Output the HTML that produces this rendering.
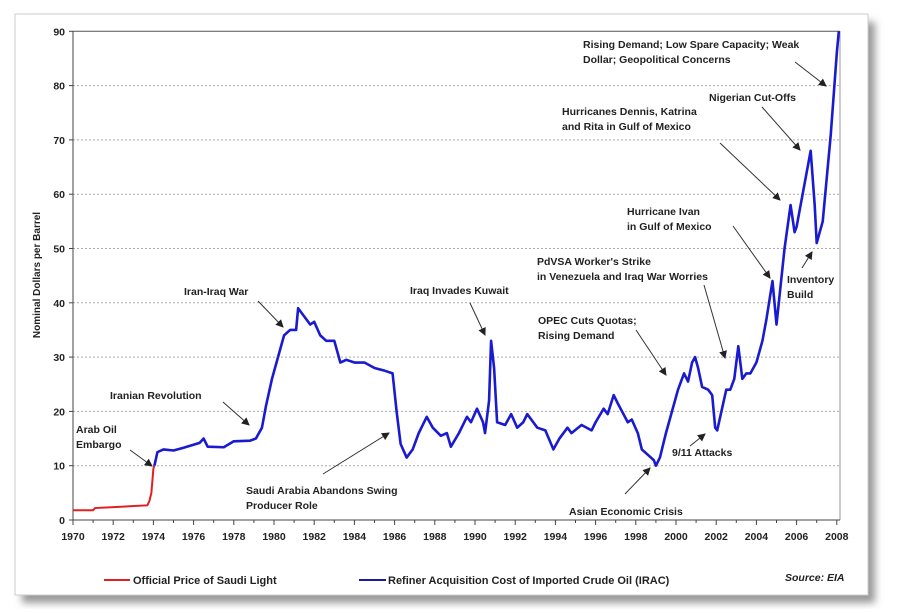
<!DOCTYPE html>
<html><head><meta charset="utf-8"><style>
body{margin:0;background:#fff;width:903px;height:609px;overflow:hidden}
svg text{font-family:"Liberation Sans",Arial,sans-serif;font-weight:bold;font-size:10.5px;fill:#222}
</style></head><body>
<svg id="chart" width="903" height="609" viewBox="0 0 903 609">
<defs><filter id="sh" x="-5%" y="-5%" width="115%" height="115%"><feGaussianBlur stdDeviation="4"/></filter>
<marker id="ah" markerWidth="8" markerHeight="8" refX="7" refY="4" orient="auto"><path d="M0,0 L8,4 L0,8 z" fill="#222"/></marker></defs>
<rect x="22" y="22" width="853" height="581" fill="#999" filter="url(#sh)"/>
<rect x="15" y="14" width="853" height="581" fill="#fff" stroke="#ccc"/>
<g id="grid"></g><g id="axes"></g><g id="series"></g>
<g id="notes"></g>
<text transform="translate(40,275) rotate(-90)" text-anchor="middle" style="font-size:10px">Nominal Dollars per Barrel</text>
<g>
<line x1="104" y1="580" x2="130" y2="580" stroke="#e02020" stroke-width="2"/>
<text x="133" y="584" style="font-size:11px">Official Price of Saudi Light</text>
<line x1="359" y1="580" x2="386" y2="580" stroke="#1a1aa0" stroke-width="2"/>
<text x="388" y="584" style="font-size:11px">Refiner Acquisition Cost of Imported Crude Oil (IRAC)</text>
<text x="785" y="581" style="font-size:10.5px;font-style:italic">Source: EIA</text>
</g>
</svg>
<script>
const yTicks=[0,10,20,30,40,50,60,70,80,90];
const xTicks=[1970,1972,1974,1976,1978,1980,1982,1984,1986,1988,1990,1992,1994,1996,1998,2000,2002,2004,2006,2008];
const saudiYears=[1970,1971,1971.1,1973.7,1973.8,1973.9,1974.0,1974.05];
const saudiPrices=[1.8,1.8,2.2,2.7,3.5,5,9.5,10];
const iracYears=[1974.05,1974.2,1974.5,1975,1975.5,1976.3,1976.5,1976.7,1977.5,1978,1978.8,1979.1,1979.4,1979.6,1979.9,1980.2,1980.5,1980.8,1981.1,1981.2,1981.5,1981.8,1982,1982.3,1982.6,1983,1983.3,1983.6,1984,1984.5,1985,1985.5,1985.9,1986.1,1986.3,1986.6,1986.9,1987.2,1987.6,1987.9,1988.3,1988.6,1988.8,1989.2,1989.6,1989.8,1990.1,1990.4,1990.5,1990.7,1990.8,1990.95,1991.1,1991.5,1991.8,1992.1,1992.4,1992.6,1993.1,1993.5,1993.9,1994.2,1994.6,1994.8,1995.3,1995.8,1996.0,1996.4,1996.6,1996.9,1997.1,1997.6,1997.8,1998.1,1998.3,1998.6,1998.9,1999.0,1999.2,1999.5,1999.8,2000.1,2000.4,2000.6,2000.8,2000.95,2001.1,2001.3,2001.6,2001.8,2001.95,2002.05,2002.2,2002.5,2002.7,2002.9,2003.1,2003.3,2003.5,2003.7,2004.0,2004.3,2004.5,2004.8,2004.9,2005.0,2005.2,2005.4,2005.7,2005.9,2006.0,2006.3,2006.6,2006.7,2006.9,2007.0,2007.3,2007.5,2007.7,2007.9,2008.0,2008.1];
const iracPrices=[10,12.5,13,12.8,13.3,14.2,15,13.5,13.4,14.5,14.6,15,17,21,26,30,34,35,35,39,37.5,36,36.5,34,33,33,29,29.5,29,29,28,27.5,27,20,14,11.5,13,16,19,17,15.5,16,13.5,16,19,18,20.5,18,16,22,33,28,18,17.5,19.5,17,18,19.5,17,16.5,13,15,17,16,17.5,16.5,18,20.5,19.5,23,21.5,18,18.5,16,13,12,11,10,11.5,16,20,24,27,25.5,29,30,28,24.5,24,23,17,16.5,19,24,24,26,32,26,27,27,29,33,37,44,40,36,43,50,58,53,54,60,66,68,58,51,55,63,71,81,86,90];
const X=y=>73+(y-1970)*20.1, Y=v=>520-v*5.43;
const NS="http://www.w3.org/2000/svg";
function mk(tag,attrs,parent){const e=document.createElementNS(NS,tag);for(const k in attrs)e.setAttribute(k,attrs[k]);parent.appendChild(e);return e;}
const grid=document.getElementById('grid'),axes=document.getElementById('axes'),series=document.getElementById('series'),notes=document.getElementById('notes');
yTicks.forEach(v=>{
 if(v>0&&v<90){const g=mk('line',{x1:X(1970),x2:840,y1:Y(v),y2:Y(v),stroke:'#aaa','stroke-dasharray':'2,2'},grid);
 
 }
 const t=mk('line',{x1:X(1970)-4,x2:X(1970),y1:Y(v),y2:Y(v),stroke:'#444'},axes);
 const l=mk('text',{x:X(1970)-8,y:Y(v)+4,'text-anchor':'end'},axes);l.textContent=v;
 
 
});
mk('line',{x1:X(1970),x2:840,y1:Y(90),y2:Y(90),stroke:'#555'},axes);
mk('line',{x1:840,x2:840,y1:Y(90),y2:Y(0),stroke:'#999'},axes);
mk('line',{x1:X(1970),x2:X(1970),y1:Y(90),y2:Y(0),stroke:'#444'},axes);
mk('line',{x1:X(1970),x2:840,y1:Y(0),y2:Y(0),stroke:'#444'},axes);
for(let yr=1970;yr<=2008;yr++)mk('line',{x1:X(yr),x2:X(yr),y1:Y(0),y2:Y(0)+(yr%2?3:5),stroke:'#444'},axes);
xTicks.forEach(yr=>{const l=mk('text',{x:X(yr),y:Y(0)+20,'text-anchor':'middle'},axes);l.textContent=yr;
 
 });
const p1=mk('polyline',{points:saudiYears.map((y,i)=>X(y)+','+Y(saudiPrices[i])).join(' '),fill:'none',stroke:'#e02020','stroke-width':2},series);


const p2=mk('polyline',{points:iracYears.map((y,i)=>X(y)+','+Y(iracPrices[i])).join(' '),fill:'none',stroke:'#1a1ad0','stroke-width':2.6,'stroke-linejoin':'round'},series);


const ann=[
 [["Rising Demand; Low Spare Capacity; Weak","Dollar; Geopolitical Concerns"],583,48,[795,62,826,86]],
 [["Nigerian Cut-Offs"],709,101,[762,107,800,150]],
 [["Hurricanes Dennis, Katrina","and Rita in Gulf of Mexico"],562,115,[720,143,780,200]],
 [["Hurricane Ivan","in Gulf of Mexico"],627,215,[733,226,770,278]],
 [["Inventory","Build"],787,283,[802,268,812,252]],
 [["PdVSA Worker's Strike","in Venezuela and Iraq War Worries"],537,265,[704,285,725,358]],
 [["OPEC Cuts Quotas;","Rising Demand"],538,324,[636,330,666,375]],
 [["Iraq Invades Kuwait"],410,294,[470,303,485,335]],
 [["Iran-Iraq War"],184,295,[258,301,283,327]],
 [["Iranian Revolution"],110,399,[223,402,249,425]],
 [["Arab Oil","Embargo"],76,433,[130,450,152,466]],
 [["Saudi Arabia Abandons Swing","Producer Role"],246,494,[323,474,389,433]],
 [["9/11 Attacks"],672,456,[690,446,705,434]],
 [["Asian Economic Crisis"],569,515,[625,494,650,468]]
];
ann.forEach(a=>{a[0].forEach((s,i)=>{const t=mk('text',{x:a[1],y:a[2]+i*15},notes);t.textContent=s;
 
 });
 const c=a[3];const l=mk('line',{x1:c[0],y1:c[1],x2:c[2],y2:c[3],stroke:'#333','stroke-width':1,'marker-end':'url(#ah)'},notes);
 
 });
</script>
</body></html>
